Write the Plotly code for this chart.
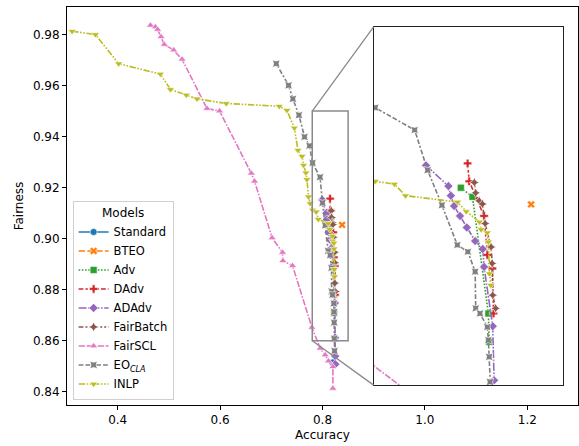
import plotly.graph_objects as go

# ---------------- data ----------------
standard_x = [0.8201]
standard_y = [0.8515]

bteo_x = [0.8383]
bteo_y = [0.9054]

adv_x = [0.8123, 0.8166, 0.8225, 0.8228]
adv_y = [0.9096, 0.9073, 0.8780, 0.8709]

dadv_x = [0.8148, 0.8154, 0.8209, 0.8221, 0.8240, 0.8244]
dadv_y = [0.9157, 0.9112, 0.9025, 0.8927, 0.8893, 0.8780]

adadv_x = [0.7994, 0.8077, 0.8086, 0.8098, 0.8120, 0.8145, 0.8176, 0.8204,
           0.8209, 0.8241, 0.8246, 0.8248, 0.8250]
adadv_y = [0.9152, 0.9100, 0.9076, 0.9050, 0.9025, 0.8996, 0.8962, 0.8942,
           0.8897, 0.8748, 0.8612, 0.8540, 0.8508]

fairbatch_x = [0.8173, 0.8178, 0.8191, 0.8203, 0.8213, 0.8235, 0.8239, 0.8241, 0.8252]
fairbatch_y = [0.9109, 0.9083, 0.9063, 0.9055, 0.9006, 0.8947, 0.8906, 0.8826, 0.8793]

fairscl_x = [0.464, 0.4736, 0.478, 0.4847, 0.4911, 0.5093, 0.5257, 0.5744, 0.599,
             0.661, 0.6673, 0.7016, 0.722, 0.7227, 0.7415, 0.7793, 0.7955, 0.8053,
             0.8117, 0.8203, 0.8203]
fairscl_y = [0.9836, 0.983, 0.982, 0.9791, 0.9761, 0.9739, 0.9703, 0.951, 0.950,
             0.9256, 0.9225, 0.9003, 0.8946, 0.8913, 0.8894, 0.8652, 0.857, 0.8544,
             0.852, 0.8498, 0.8413]

eo_x = [0.7097, 0.7337, 0.7422, 0.754, 0.7649, 0.7746, 0.7806, 0.7952, 0.8000,
        0.8053, 0.8110, 0.8149, 0.8176, 0.8178, 0.8194, 0.8221, 0.8225, 0.8228,
        0.8231, 0.8235]
eo_y = [0.9686, 0.9601, 0.9548, 0.9484, 0.9399, 0.9364, 0.9297, 0.9241, 0.9140,
        0.9052, 0.8952, 0.8935, 0.8885, 0.8793, 0.8780, 0.8746, 0.8713, 0.8671,
        0.8608, 0.8560]

inlp_x = [0.311, 0.3565, 0.402, 0.4833, 0.503, 0.534, 0.555, 0.612, 0.7155, 0.7305,
          0.745, 0.752, 0.76, 0.763, 0.7676, 0.7696, 0.7727, 0.7760, 0.7806, 0.7877,
          0.7918, 0.8111, 0.8143, 0.8192, 0.8198, 0.8221, 0.8225, 0.8229, 0.8234]
inlp_y = [0.9813, 0.980, 0.9686, 0.9645, 0.9585, 0.9563, 0.9548, 0.953, 0.9519, 0.9503,
          0.9434, 0.9347, 0.9323, 0.9288, 0.9258, 0.9232, 0.9164, 0.9138, 0.9112, 0.9105,
          0.9076, 0.9060, 0.9036, 0.9010, 0.8991, 0.8983, 0.8960, 0.8880, 0.8851]

model_names = ["Standard", "BTEO", "Adv", "DAdv", "ADAdv", "FairBatch", "FairSCL",
               "EO<sub><i>CLA</i></sub>", "INLP"]

x_ticks = [0.4, 0.6, 0.8, 1.0, 1.2]
y_ticks = [0.84, 0.86, 0.88, 0.90, 0.92, 0.94, 0.96, 0.98]

main_xrange = [0.301, 1.299]
main_yrange = [0.8348, 0.9908]
zoom_xrange = [0.78, 0.85]
zoom_yrange = [0.86, 0.95]
inset_xdom = [0.6, 0.97]
inset_ydom = [0.05, 0.95]

# ---------------- styles ----------------
def dash(pattern, scale=1.6):
    if not pattern:
        return "solid"
    return ",".join(f"{p*scale:.2f}px" for p in pattern)

series = [
    (standard_x, standard_y, "#1f77b4", "circle", None),
    (bteo_x, bteo_y, "#ff7f0e", "x", (4, 1.5)),
    (adv_x, adv_y, "#2ca02c", "square", (1, 1)),
    (dadv_x, dadv_y, "#d62728", "cross", (3, 1.25, 1.5, 1.25)),
    (adadv_x, adadv_y, "#9467bd", "diamond", (5, 1, 1, 1)),
    (fairbatch_x, fairbatch_y, "#8c564b", "star-diamond", (3, 1.25, 1.25, 1.25, 1.25, 1.25)),
    (fairscl_x, fairscl_y, "#e377c2", "triangle-up", (4, 1, 4, 1, 1, 1)),
    (eo_x, eo_y, "#7f7f7f", "star-square", (3, 1.25, 3, 1.25, 1.25, 1.25)),
    (inlp_x, inlp_y, "#bcbd22", "triangle-down", (4, 1, 1, 1, 1, 1)),
]

fig = go.Figure()
for (xs, ys, col, sym, dp), name in zip(series, model_names):
    for axes, show in ((("x", "y"), True), (("x2", "y2"), False)):
        fig.add_trace(go.Scatter(
            x=xs, y=ys, name=name, mode="lines+markers",
            xaxis=axes[0], yaxis=axes[1], showlegend=show,
            line=dict(color=col, width=1.6, dash=dash(dp)),
            marker=dict(symbol=sym, size=7, color=col,
                        line=dict(color="white", width=0.6)),
        ))

font = dict(family="DejaVu Sans", size=12, color="black")
legend_font = dict(family="DejaVu Sans", size=11.5, color="black")

def data_x(frac):
    return main_xrange[0] + frac * (main_xrange[1] - main_xrange[0])

def data_y(frac):
    return main_yrange[0] + frac * (main_yrange[1] - main_yrange[0])

shapes = [
    dict(type="rect", xref="x", yref="y", x0=zoom_xrange[0], x1=zoom_xrange[1],
         y0=zoom_yrange[0], y1=zoom_yrange[1], line=dict(color="#8a8a8a", width=1.5),
         fillcolor="rgba(0,0,0,0)", layer="above"),
    dict(type="line", xref="x", yref="y", x0=zoom_xrange[0], y0=zoom_yrange[1],
         x1=data_x(inset_xdom[0]), y1=data_y(inset_ydom[1]),
         line=dict(color="#8a8a8a", width=1.3), layer="above"),
    dict(type="line", xref="x", yref="y", x0=zoom_xrange[0], y0=zoom_yrange[0],
         x1=data_x(inset_xdom[0]), y1=data_y(inset_ydom[0]),
         line=dict(color="#8a8a8a", width=1.3), layer="above"),
]

fig.update_layout(
    width=579, height=446,
    margin=dict(l=67, r=1, t=7, b=41),
    paper_bgcolor="white", plot_bgcolor="white",
    font=font,
    shapes=shapes,
    xaxis=dict(range=main_xrange, domain=[0, 1], anchor="y",
               tickvals=x_ticks, tickformat=".1f", ticks="outside", ticklen=4,
               tickwidth=1, tickcolor="black", showline=True, mirror=True,
               linecolor="black", linewidth=1, showgrid=False, zeroline=False,
               automargin=False,
               title=dict(text="Accuracy", font=font, standoff=4)),
    yaxis=dict(range=main_yrange, domain=[0, 1], anchor="x",
               tickvals=y_ticks, tickformat=".2f", ticks="outside", ticklen=4,
               tickwidth=1, tickcolor="black", showline=True, mirror=True,
               linecolor="black", linewidth=1, showgrid=False, zeroline=False,
               automargin=False,
               title=dict(text="Fairness", font=font, standoff=6)),
    xaxis2=dict(range=zoom_xrange, domain=inset_xdom, anchor="y2",
                showticklabels=False, ticks="", showline=True, mirror=True,
                linecolor="#222", linewidth=1.2, showgrid=False, zeroline=False),
    yaxis2=dict(range=zoom_yrange, domain=inset_ydom, anchor="x2",
                showticklabels=False, ticks="", showline=True, mirror=True,
                linecolor="#222", linewidth=1.2, showgrid=False, zeroline=False),
    legend=dict(x=0.011, y=0.013, xanchor="left", yanchor="bottom",
                bgcolor="rgba(255,255,255,0.85)", bordercolor="#d0d0d0",
                borderwidth=1, font=legend_font, traceorder="normal",
                title=dict(text="Models", side="top center", font=font)),
)

fig.write_html("out.html", config={"displayModeBar": False},
               post_script="document.body.style.margin='0';")
